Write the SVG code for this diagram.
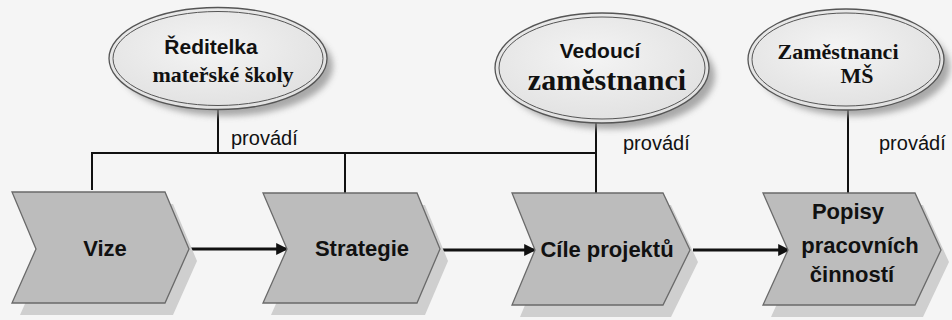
<svg xmlns="http://www.w3.org/2000/svg" width="952" height="320" viewBox="0 0 952 320">
<defs>
<marker id="ah" viewBox="0 0 10 10" refX="9" refY="5" markerWidth="4.5" markerHeight="4" orient="auto" markerUnits="strokeWidth">
<path d="M0,0 L10,5 L0,10 z" fill="#111"/>
</marker>
<radialGradient id="eg" cx="0.45" cy="0.4" r="0.7">
<stop offset="0" stop-color="#f4f4f4"/>
<stop offset="1" stop-color="#dedede"/>
</radialGradient>
<filter id="blur" x="-20%" y="-20%" width="140%" height="140%"><feGaussianBlur stdDeviation="3"/></filter>
</defs>
<style>
.bg{fill:#f5f5f5}
.esh{fill:#8f8f8f;filter:url(#blur);opacity:0.75}
.eo{fill:url(#eg);stroke:#555;stroke-width:1.3}
.ei{fill:none;stroke:#555;stroke-width:1}
.csh{fill:#cfcfcf}
.ch{fill:#bcbcbc;stroke:#6a6a6a;stroke-width:1.3}
.ln{fill:none;stroke:#111;stroke-width:2}
.ar{fill:none;stroke:#111;stroke-width:3;marker-end:url(#ah)}
.sb{font-family:"Liberation Sans",Arial,sans-serif;font-weight:bold;fill:#111}
.sr{font-family:"Liberation Serif","Times New Roman",serif;font-weight:bold;fill:#111}
.lb{font-family:"Liberation Sans",Arial,sans-serif;font-size:20px;fill:#111}
</style>
<rect class="bg" x="0" y="0" width="952" height="320"/>
<g id="connectors">
<polyline class="ln" points="218,110 218,153"/>
<polyline class="ln" points="92,190 92,153 596,153"/>
<polyline class="ln" points="345,153 345,193"/>
<polyline class="ln" points="596,123 596,193"/>
<polyline class="ln" points="848,110 848,193"/>
<line class="ar" x1="189" y1="249" x2="287" y2="249"/>
<line class="ar" x1="441" y1="250" x2="535" y2="250"/>
<line class="ar" x1="693" y1="250" x2="789" y2="250"/>
<text class="lb" x="231" y="145">provádí</text>
<text class="lb" x="623" y="150">provádí</text>
<text class="lb" x="879" y="150">provádí</text>
</g>
<g id="n-reditelka">
<ellipse class="esh" cx="226" cy="66" rx="107" ry="50"/>
<ellipse class="eo" cx="218" cy="58.5" rx="109" ry="51"/>
<ellipse class="ei" cx="218" cy="58.5" rx="105" ry="47"/>
<text class="sb" x="211" y="54" font-size="21" text-anchor="middle">Ředitelka</text>
<text class="sr" x="223" y="82" font-size="22" text-anchor="middle">mateřské školy</text>
</g>
<g id="n-vedouci">
<ellipse class="esh" cx="610" cy="76" rx="105" ry="53"/>
<ellipse class="eo" cx="602" cy="68" rx="107" ry="55"/>
<ellipse class="ei" cx="602" cy="68" rx="103" ry="51"/>
<text class="sb" x="600" y="58" font-size="21" text-anchor="middle">Vedoucí</text>
<text class="sr" x="607" y="90" font-size="30" text-anchor="middle">zaměstnanci</text>
</g>
<g id="n-zamestnanci">
<ellipse class="esh" cx="854" cy="67" rx="96" ry="49"/>
<ellipse class="eo" cx="846" cy="59.5" rx="98" ry="50.5"/>
<ellipse class="ei" cx="846" cy="59.5" rx="94" ry="46.5"/>
<text class="sr" x="838" y="59" font-size="22" text-anchor="middle">Zaměstnanci</text>
<text class="sr" x="857" y="83" font-size="22" text-anchor="middle">MŠ</text>
</g>
<g id="n-vize">
<polygon class="csh" points="20,204 173,204 197,261 173,315 20,315 44,261"/>
<polygon class="ch" points="12,192 165,192 189,249 165,303 12,303 36,249"/>
<text class="sb" x="105" y="256" font-size="22" text-anchor="middle">Vize</text>
</g>
<g id="n-strategie">
<polygon class="csh" points="271,205 425,205 448,261 425,315 271,315 295,261"/>
<polygon class="ch" points="263,193 417,193 440,249 417,303 263,303 287,249"/>
<text class="sb" x="362" y="256" font-size="22" text-anchor="middle">Strategie</text>
</g>
<g id="n-cile">
<polygon class="csh" points="520,205 671,205 698,262 671,317 520,317 543,262"/>
<polygon class="ch" points="512,193 663,193 690,250 663,305 512,305 535,250"/>
<text class="sb" x="607" y="257" font-size="22" text-anchor="middle">Cíle projektů</text>
</g>
<g id="n-popisy">
<polygon class="csh" points="771,205 923,205 949,262 923,317 771,317 796,262"/>
<polygon class="ch" points="763,193 915,193 941,250 915,305 763,305 788,250"/>
<text class="sb" x="848" y="219" font-size="22" text-anchor="middle">Popisy</text>
<text class="sb" x="860" y="253" font-size="22" text-anchor="middle">pracovních</text>
<text class="sb" x="852" y="282" font-size="22" text-anchor="middle">činností</text>
</g>
</svg>
